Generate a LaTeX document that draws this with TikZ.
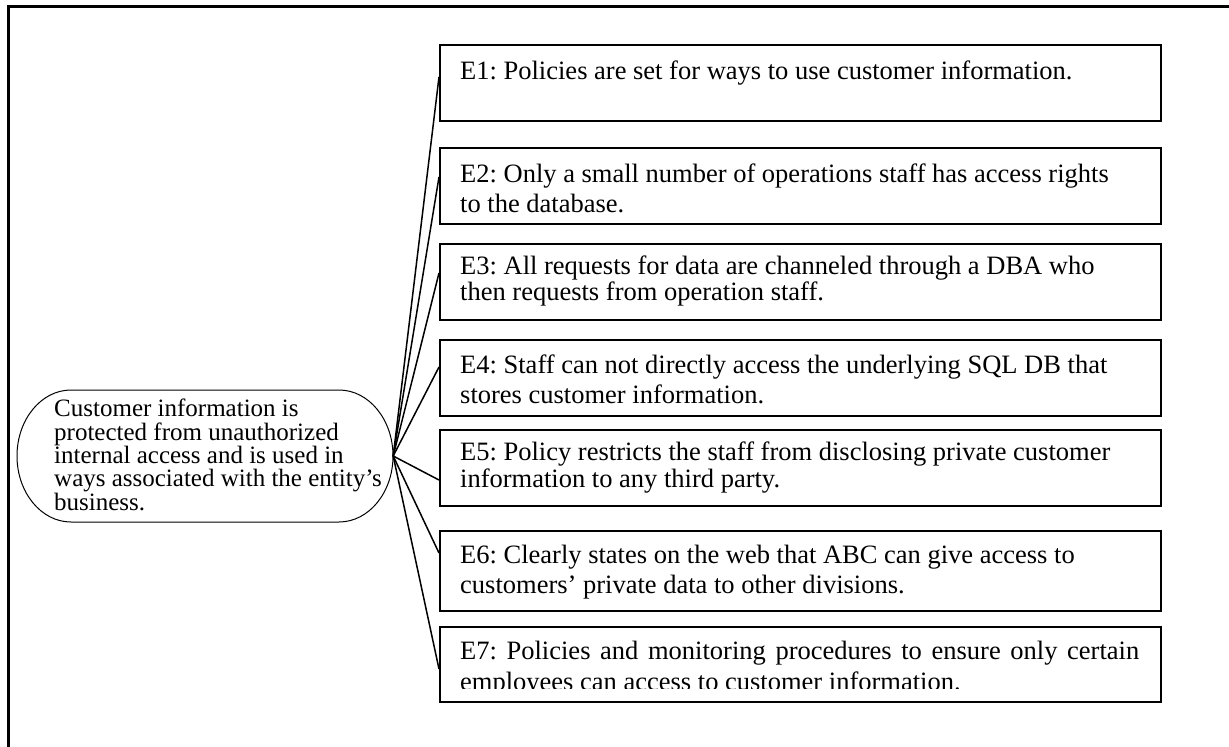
\documentclass[tikz,border=0pt]{standalone}
\usepackage{fontspec}
\setmainfont{Liberation Serif}
\frenchspacing
\begin{document}
\begin{tikzpicture}[x=1pt,y=-1pt,
  ebox/.style={draw, line width=2pt, minimum width=721pt, minimum height=76pt, anchor=north west, inner sep=0pt},
  etext/.style={anchor=north west, inner sep=0pt, font=\fontsize{26.5}{#1}\selectfont, align=left},
  etext/.default=30,
  rtext/.style={anchor=north west, inner sep=0pt, font=\fontsize{25}{23.3}\selectfont, align=left},
  conn/.style={line width=1.5pt},
  frame/.style={line width=3pt}]
\clip (0,0) rectangle (1229,747);
\draw[frame] (8,6) rectangle (1270,790);
% evidence boxes
\node[ebox] (e1) at (439,44) {};
\node[ebox] (e2) at (439,147) {};
\node[ebox] (e3) at (439,243) {};
\node[ebox] (e4) at (439,339) {};
\node[ebox] (e5) at (439,429) {};
\node[ebox, minimum height=80pt] (e6) at (439,530) {};
\node[ebox, minimum height=75pt] (e7) at (439,626) {};
% texts
\node[etext] (t1) at (460,61) {E1: Policies are set for ways to use customer information.};
\node[etext] (t2) at (460,164) {E2: Only a small number of operations staff has access rights\\to the database.};
\node[etext=24] (t3) at (460,256) {E3: All requests for data are channeled through a DBA who\\then requests from operation staff.};
\node[etext] (t4) at (460,355) {E4: Staff can not directly access the underlying SQL DB that\\stores customer information.};
\node[etext=27] (t5) at (460,442) {E5: Policy restricts the staff from disclosing private customer\\information to any third party.};
\node[etext] (t6) at (460,545) {E6: Clearly states on the web that ABC can give access to\\customers’ private data to other divisions.};
\begin{scope}
\clip (441,628) rectangle (1158,688);
\node[etext=31] (t7) at (460,641) {\makebox[679pt][s]{E7: Policies and monitoring procedures to ensure only certain}\\employees can access to customer information.};
\end{scope}
% root
\node[minimum width=376pt, minimum height=132pt, inner sep=0pt] (root) at (205,456) {};
\draw[line width=1pt] (71,390) -- (339,390)
  .. controls (368.8,390) and (393,419.5) .. (393,456)
  .. controls (393,492.5) and (368.8,522) .. (339,522)
  -- (71,522)
  .. controls (41.2,522) and (17,492.5) .. (17,456)
  .. controls (17,419.5) and (41.2,390) .. (71,390) -- cycle;
\node[rtext] (rt) at (54,399) {Customer information is\\protected from unauthorized\\internal access and is used in\\ways associated with the entity’s\\business.};
% connectors
\draw[conn] (root.east) -- ([yshift=-33pt]e1.north west);
\draw[conn] (root.east) -- ([yshift=-30pt]e2.north west);
\draw[conn] (root.east) -- ([yshift=-30pt]e3.north west);
\draw[conn] (root.east) -- ([yshift=-28pt]e4.north west);
\draw[conn] (root.east) -- ([yshift=-51pt]e5.north west);
\draw[conn] (root.east) -- ([yshift=-23pt]e6.north west);
\draw[conn] (root.east) -- ([yshift=-43pt]e7.north west);
\end{tikzpicture}
\end{document}
